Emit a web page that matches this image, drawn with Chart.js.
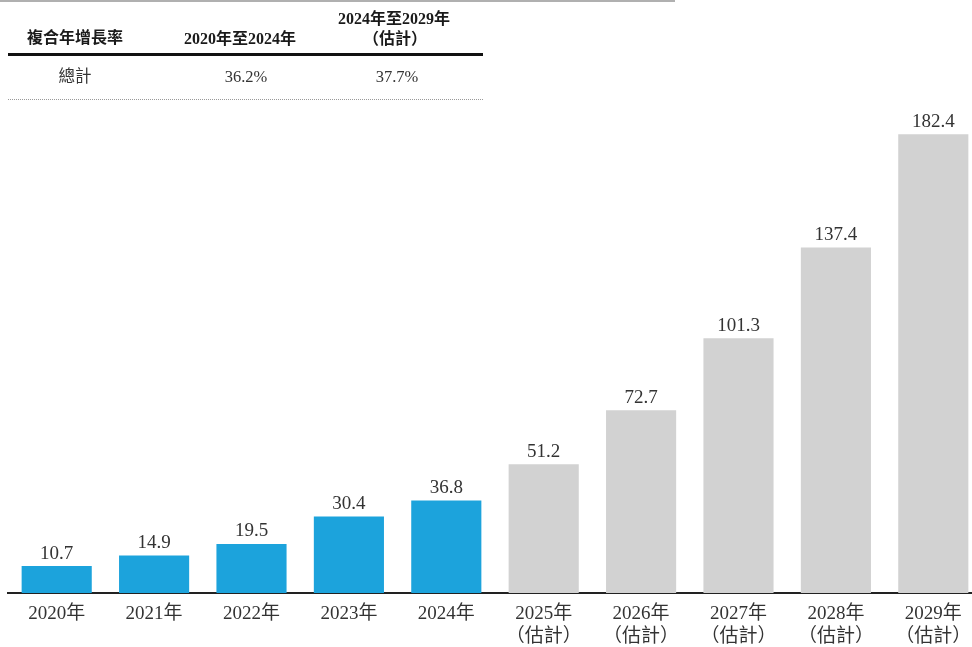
<!DOCTYPE html>
<html>
<head>
<meta charset="utf-8">
<script src="https://cdn.jsdelivr.net/npm/chart.js@4"></script>
<style>
  html, body { margin:0; padding:0; overflow:hidden; width:972px; height:647px; background:#fff; }
  #wrap { position:absolute; left:0; top:0; width:990px; height:647px; }
  .t { position:absolute; width:200px; text-align:center; line-height:20px; height:20px; color:#333;
       font-family:"Liberation Serif","Noto Sans CJK TC",serif; font-size:16.5px; white-space:nowrap; }
  .b { font-weight:bold; color:#1a1a1a; font-size:16px; }
</style>
</head>
<body>
<div id="wrap"><canvas id="c" width="990" height="647"></canvas></div>
<div style="position:absolute;left:0;top:0;width:675px;height:2px;background:#b0b0b0;"></div>
<div id="tbl"></div>
<div style="position:absolute;left:8px;top:53px;width:475px;height:3px;background:#111;"></div>
<div style="position:absolute;left:8px;top:99px;width:475px;height:0;border-top:1px dotted #999;"></div>
<script>
const categories = [
  ['2020年'], ['2021年'], ['2022年'], ['2023年'], ['2024年'],
  ['2025年', '（估計）'], ['2026年', '（估計）'], ['2027年', '（估計）'], ['2028年', '（估計）'], ['2029年', '（估計）']
];
const values = [10.7, 14.9, 19.5, 30.4, 36.8, 51.2, 72.7, 101.3, 137.4, 182.4];
const isEstimate = [false, false, false, false, false, true, true, true, true, true];

const cagrHeader = ['複合年增長率', '2020年至2024年', ['2024年至2029年', '（估計）']];
const cagrRow = ['總計', '36.2%', '37.7%'];

// table overlay
const tbl = document.getElementById('tbl');
function addText(txt, cx, cy, bold) {
  const d = document.createElement('div');
  d.className = 't' + (bold ? ' b' : '');
  d.textContent = txt;
  d.style.left = (cx - 100) + 'px';
  d.style.top = (cy - 10) + 'px';
  tbl.appendChild(d);
}
addText(cagrHeader[0], 75, 38, true);
addText(cagrHeader[1], 240, 39, true);
addText(cagrHeader[2][0], 394, 19, true);
addText(cagrHeader[2][1], 395, 39, true);
addText(cagrRow[0], 75, 77, false);
addText(cagrRow[1], 246, 77, false);
addText(cagrRow[2], 397, 77, false);

const FONT = '"Liberation Serif","Noto Sans CJK TC",serif';

const valueLabels = {
  id: 'valueLabels',
  afterDatasetsDraw(chart) {
    const ctx = chart.ctx;
    const meta = chart.getDatasetMeta(0);
    ctx.save();
    ctx.font = '19px ' + FONT;
    ctx.fillStyle = '#333';
    ctx.textAlign = 'center';
    ctx.textBaseline = 'bottom';
    meta.data.forEach((bar, i) => {
      ctx.fillText(values[i].toFixed(1), bar.x, bar.y - 3);
    });
    ctx.restore();
  }
};

new Chart(document.getElementById('c'), {
  type: 'bar',
  data: {
    labels: categories,
    datasets: [{
      data: values,
      backgroundColor: isEstimate.map(e => e ? '#d2d2d2' : '#1ca3dc'),
      borderWidth: 0,
      barPercentage: 0.72,
      categoryPercentage: 1.0
    }]
  },
  options: {
    responsive: false,
    animation: false,
    layout: { padding: { left: 8, right: 8, top: 90, bottom: 0 } },
    plugins: { legend: { display: false }, tooltip: { enabled: false } },
    scales: {
      y: { display: false, min: 0, max: 200 },
      x: {
        afterFit(s) { s.height = 54; },
        grid: { display: true, drawOnChartArea: false, drawTicks: false, color: 'rgba(0,0,0,0)' },
        border: { display: true, color: '#222', width: 2 },
        ticks: {
          color: '#333',
          padding: 10,
          maxRotation: 0,
          autoSkip: false,
          font: { family: FONT, size: 19, lineHeight: 1.2 }
        }
      }
    }
  },
  plugins: [valueLabels]
});
</script>
</body>
</html>
